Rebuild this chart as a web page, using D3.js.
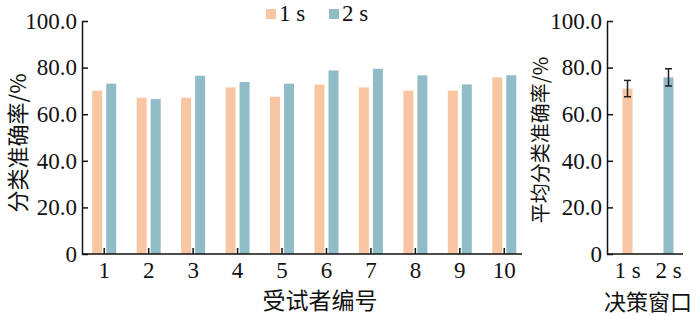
<!DOCTYPE html>
<html>
<head>
<meta charset="utf-8">
<script src="https://cdn.jsdelivr.net/npm/d3@7"></script>
<style>
  body { margin: 0; background: #fff; }
  text { font-family: "Liberation Serif", "Times New Roman", serif; fill: #111; }
  .cjk { font-family: "Noto Sans CJK SC", sans-serif; }
</style>
</head>
<body>
<svg id="chart"></svg>
<script>
// data
const subjects = ["1", "2", "3", "4", "5", "6", "7", "8", "9", "10"];
const acc1s = [70.1, 67.1, 67.1, 71.5, 67.5, 72.7, 71.5, 70.1, 70.1, 75.8];
const acc2s = [73.1, 66.5, 76.5, 73.8, 73.1, 78.8, 79.5, 76.7, 72.8, 76.7];
const windows = ["1 s", "2 s"];
const meanAcc = [71.0, 75.8];
const errAcc = [3.5, 3.7];
const yTicks = [0, 20, 40, 60, 80, 100];

const colors = { "1 s": "#f8c6a3", "2 s": "#90bcc8" };

let width = 700;
let height = 315;

let svg = d3.select("#chart")
    .attr("width", width)
    .attr("height", height);

// shared y scale
let yScale = d3.scaleLinear()
    .domain([0, 100])
    .range([254, 21]);

let yFormat = d => d === 0 ? "0" : d3.format(".1f")(d);

// ---------- left panel: per subject ----------
let xScale = d3.scaleBand()
    .domain(subjects)
    .range([82, 526.5]);

let barW = 10;
svg.selectAll(".bar1")
    .data(subjects)
    .enter().append("rect")
    .attr("x", (d) => xScale(d) + xScale.bandwidth() / 2 - 2 - barW)
    .attr("y", (d, i) => yScale(acc1s[i]))
    .attr("width", barW)
    .attr("height", (d, i) => yScale(0) - yScale(acc1s[i]))
    .attr("fill", colors["1 s"]);

svg.selectAll(".bar2")
    .data(subjects)
    .enter().append("rect")
    .attr("x", (d) => xScale(d) + xScale.bandwidth() / 2 + 2)
    .attr("y", (d, i) => yScale(acc2s[i]))
    .attr("width", barW)
    .attr("height", (d, i) => yScale(0) - yScale(acc2s[i]))
    .attr("fill", colors["2 s"]);

let yAxisL = svg.append("g")
    .attr("transform", "translate(82,0)")
    .call(d3.axisLeft(yScale).tickValues(yTicks).tickFormat(yFormat)
        .tickSizeInner(-6).tickSizeOuter(0).tickPadding(5));

let xAxisL = svg.append("g")
    .attr("transform", "translate(0,254)")
    .call(d3.axisBottom(xScale).tickSizeInner(-6).tickSizeOuter(0).tickPadding(8));
xAxisL.select(".domain").attr("d", "M82,0H522");

[yAxisL, xAxisL].forEach(a => {
    a.attr("font-family", null);
    a.selectAll("text").style("font-size", "23px");
    a.selectAll("path, line").attr("stroke", "#111").attr("stroke-width", 1.5);
});

svg.append("text")
    .attr("class", "cjk")
    .attr("transform", "translate(18,143) rotate(-90)")
    .attr("text-anchor", "middle")
    .attr("dy", "0.36em")
    .style("font-size", "22px")
    .text("分类准确率/%");

svg.append("text")
    .attr("class", "cjk")
    .attr("x", 320)
    .attr("y", 301)
    .attr("text-anchor", "middle")
    .attr("dy", "0.36em")
    .style("font-size", "23px")
    .text("受试者编号");

// legend
let legend = svg.append("g");
windows.forEach((w, i) => {
    let lx = 266 + i * 63;
    legend.append("rect")
        .attr("x", lx).attr("y", 9)
        .attr("width", 10).attr("height", 10)
        .attr("fill", colors[w]);
    legend.append("text")
        .attr("x", lx + 13).attr("y", 21)
        .style("font-size", "23px")
        .text(w);
});

// ---------- right panel: mean per window ----------
let xScaleR = d3.scaleBand()
    .domain(windows)
    .range([607, 689]);

svg.selectAll(".barR")
    .data(windows)
    .enter().append("rect")
    .attr("x", d => xScaleR(d) + xScaleR.bandwidth() / 2 - barW / 2)
    .attr("y", (d, i) => yScale(meanAcc[i]))
    .attr("width", barW)
    .attr("height", (d, i) => yScale(0) - yScale(meanAcc[i]))
    .attr("fill", d => colors[d]);

let yAxisR = svg.append("g")
    .attr("transform", "translate(607,0)")
    .call(d3.axisLeft(yScale).tickValues(yTicks).tickFormat(yFormat)
        .tickSizeInner(-6).tickSizeOuter(0).tickPadding(5));

let xAxisR = svg.append("g")
    .attr("transform", "translate(0,254)")
    .call(d3.axisBottom(xScaleR).tickSize(0).tickPadding(8));
xAxisR.select(".domain").attr("d", "M607,0H683");

[yAxisR, xAxisR].forEach(a => {
    a.attr("font-family", null);
    a.selectAll("text").style("font-size", "23px");
    a.selectAll("path, line").attr("stroke", "#111").attr("stroke-width", 1.5);
});

// error bars
let err = svg.append("g").attr("stroke", "#222").attr("stroke-width", 1.5);
windows.forEach((w, i) => {
    let cx = xScaleR(w) + xScaleR.bandwidth() / 2;
    let top = yScale(meanAcc[i] + errAcc[i]);
    let bot = yScale(meanAcc[i] - errAcc[i]);
    err.append("line").attr("x1", cx).attr("x2", cx).attr("y1", top).attr("y2", bot);
    err.append("line").attr("x1", cx - 3.5).attr("x2", cx + 3.5).attr("y1", top).attr("y2", top);
    err.append("line").attr("x1", cx - 3.5).attr("x2", cx + 3.5).attr("y1", bot).attr("y2", bot);
});

svg.append("text")
    .attr("class", "cjk")
    .attr("transform", "translate(541,140) rotate(-90)")
    .attr("text-anchor", "middle")
    .attr("dy", "0.36em")
    .style("font-size", "20px")
    .text("平均分类准确率/%");

svg.append("text")
    .attr("class", "cjk")
    .attr("x", 648)
    .attr("y", 302)
    .attr("text-anchor", "middle")
    .attr("dy", "0.36em")
    .style("font-size", "22px")
    .text("决策窗口");
</script>
</body>
</html>
